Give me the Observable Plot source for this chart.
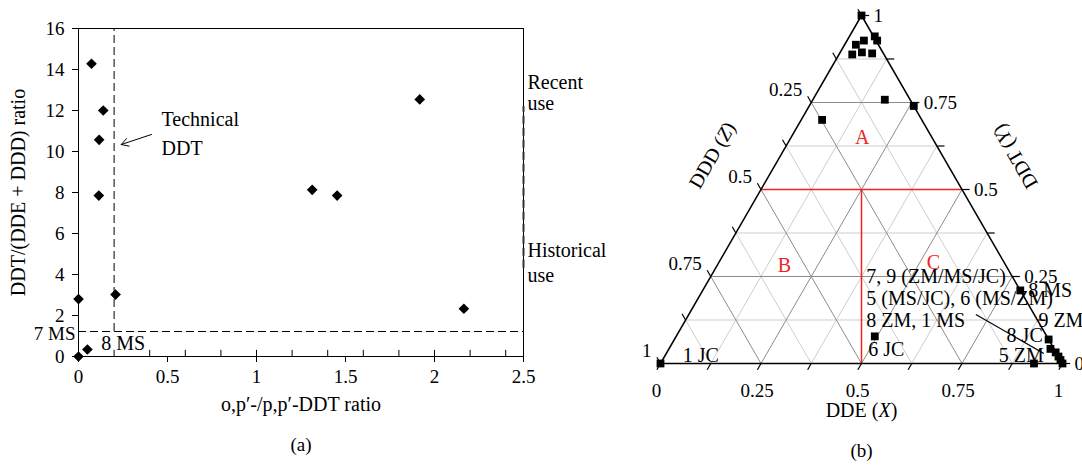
<!DOCTYPE html>
<html><head><meta charset="utf-8">
<script src="https://cdn.jsdelivr.net/npm/d3@7"></script>
<script src="https://cdn.jsdelivr.net/npm/@observablehq/plot@0.6"></script>
<style>
body{margin:0;background:#fff;}
#wrap{position:relative;width:1082px;height:465px;overflow:hidden;background:#fff;}
#a{position:absolute;left:0;top:0;}
#b{position:absolute;left:560px;top:0;}
svg{overflow:visible;}
</style></head><body><div id="wrap"><div id="a"></div><div id="b"></div></div>
<script>
// ---------- Panel (a) data ----------
const opRatio  = [0, 0, 0.05, 0.073, 0.139, 0.116, 0.114, 0.208, 1.313, 1.453, 1.917, 2.165];
const ddtRatio = [2.8, 0, 0.34, 14.28, 12.0, 10.57, 7.85, 3.02, 8.13, 7.85, 12.54, 2.33];
const xTicksA = [0, 0.5, 1, 1.5, 2, 2.5];
const xMinorA = [0.2, 0.4, 0.6, 0.8, 1.0, 1.2, 1.4, 1.6, 1.8, 2.0, 2.2, 2.4];
const yTicksA = [0, 2, 4, 6, 8, 10, 12, 14, 16];
const limit7MS = 1.22;       // horizontal dashed line
const technicalDDT = 0.2;    // vertical dashed line
const useSplit = [4.3, 12.2];// dashed segment at right edge
const annotA = [
  {t: "Technical", x: 0.444, y: 11.55},
  {t: "DDT", x: 0.444, y: 10.15},
  {t: "Recent", x: 2.5, y: 13.37},
  {t: "use", x: 2.5, y: 12.34},
  {t: "Historical", x: 2.5, y: 5.17},
  {t: "use", x: 2.5, y: 3.95},
  {t: "8 MS", x: 0.105, y: 0.63}
];
const arrowA = {x1: 0.41, y1: 10.83, x2: 0.24, y2: 10.34};

// ---------- Panel (b) data ----------
const ddeX = [0, 0.063, 0.075, 0.042, 0.028, 0.054, 0.081, 0.033, 0.052, 0.179, 0.26,
              0, 0.494, 0.79, 0.931, 0.949, 0.967, 0.98, 0.99, 1.0, 0.929];
const ddtY = [1, 0.94, 0.928, 0.928, 0.916, 0.894, 0.891, 0.888, 0.70, 0.758, 0.74,
              0, 0.078, 0.21, 0.069, 0.042, 0.032, 0.02, 0.01, 0, 0];
const gridSteps = [0.125, 0.25, 0.375, 0.5, 0.625, 0.75, 0.875];
const edgeTicks = [0, 0.125, 0.25, 0.375, 0.5, 0.625, 0.75, 0.875, 1];
const labelVals = [0, 0.25, 0.5, 0.75, 1];
const labelText = ["0", "0.25", "0.5", "0.75", "1"];
const boundaryY = 0.5;
const regions = [
  {t: "A", X: 0.177, Y: 0.65},
  {t: "B", X: 0.168, Y: 0.28},
  {t: "C", X: 0.534, Y: 0.29}
];
const annotB = [
  {t: "1 JC", X: 0.044, Y: 0.023},
  {t: "7, 9 (ZM/MS/JC)", X: 0.387, Y: 0.25},
  {t: "5 (MS/JC), 6 (MS/ZM)", X: 0.419, Y: 0.186},
  {t: "8 ZM, 1 MS", X: 0.45, Y: 0.124},
  {t: "6 JC", X: 0.497, Y: 0.04},
  {t: "8 MS", X: 0.81, Y: 0.21},
  {t: "9 ZM", X: 0.879, Y: 0.122},
  {t: "8 JC", X: 0.821, Y: 0.08},
  {t: "5 ZM", X: 0.83, Y: 0.023}
];
const leaderB = {X1: 0.714, Y1: 0.141, X2: 0.939, Y2: 0.029};

const FONT = '"Liberation Serif", "Times New Roman", serif';
const DASH = "8,4";

// ---------- Panel (a) ----------
const plotA = Plot.plot({
  width: 560, height: 465,
  marginLeft: 78, marginRight: 37, marginTop: 28, marginBottom: 109,
  x: {domain: [0, 2.5]},
  y: {domain: [0, 16]},
  style: {fontFamily: FONT, fontSize: "19px", color: "black", background: "transparent", overflow: "visible"},
  marks: [
    Plot.axisX(xTicksA, {tickSize: 6, tickPadding: 7, tickFormat: d => String(d), label: null, fontSize: 19}),
    Plot.axisY(yTicksA, {tickSize: 6, tickPadding: 8, tickFormat: d => String(d), label: null, fontSize: 19}),
    Plot.ruleX(xMinorA, {y1: 0, y2: 0.3, stroke: "black"}),
    Plot.frame({stroke: "black"}),
    Plot.ruleX([technicalDDT], {y1: limit7MS, y2: 16, strokeDasharray: DASH, stroke: "black"}),
    Plot.ruleY([limit7MS], {x1: 0, x2: 2.5, strokeDasharray: DASH, stroke: "black"}),
    Plot.ruleX([2.5], {y1: useSplit[0], y2: useSplit[1], strokeDasharray: DASH, strokeWidth: 2, stroke: "#333"}),
    Plot.dot(opRatio.map((v, i) => i), {x: i => opRatio[i], y: i => ddtRatio[i], symbol: "diamond2", fill: "black", stroke: "none", r: 4.8}),
    Plot.arrow([arrowA], {x1: "x1", y1: "y1", x2: "x2", y2: "y2", stroke: "black", strokeWidth: 1, headLength: 12}),
    Plot.text(annotA, {x: "x", y: "y", text: "t", textAnchor: "start", dx: 4, fontSize: 20, fill: "black"}),
    Plot.text(["7 MS"], {x: 0, y: limit7MS, text: d => d, textAnchor: "end", dx: -3, dy: 2, fontSize: 19, fill: "black"}),
    Plot.text(["DDT/(DDE + DDD) ratio"], {frameAnchor: "left", textAnchor: "middle", text: d => d, dx: -60, rotate: -90, fontSize: 20, fill: "black"}),
    Plot.text(["o,p′-/p,p′-DDT ratio"], {frameAnchor: "bottom", text: d => d, dy: 54, fontSize: 20, fill: "black"}),
    Plot.text(["(a)"], {frameAnchor: "bottom", text: d => d, dy: 94, fontSize: 19, fill: "black"})
  ]
});
document.getElementById("a").appendChild(plotA);

// ---------- Panel (b) ----------
const T = (X, Y) => [X + Y / 2, Y];
const isMajor = v => Math.abs(v * 4 - Math.round(v * 4)) < 1e-9;
const segs = [];
for (const v of gridSteps) {
  segs.push({a: T(0, v), b: T(1 - v, v), major: isMajor(v)});       // constant DDT
  segs.push({a: T(v, 0), b: T(v, 1 - v), major: isMajor(v)});       // constant DDE
  segs.push({a: T(1 - v, 0), b: T(0, 1 - v), major: isMajor(v)});   // constant DDD
}
const L = 0.018;
const ticks = [];
for (const v of edgeTicks) {
  const pb = T(v, 0); ticks.push({a: pb, b: [pb[0] - L / 2, -L]});
  const pr = T(1 - v, v); ticks.push({a: pr, b: [pr[0] + L * 1.05, pr[1]]});
  const pl = T(0, 1 - v); ticks.push({a: pl, b: [pl[0] - L / 2, pl[1] + L]});
}
const edges = [T(0, 0), T(1, 0), T(0, 1), T(0, 0)];
const pts = ddeX.map((x, i) => T(x, ddtY[i]));
const red = "#ee2424";
// region boundaries: DDT = 0.5, and DDE = DDD below it
const redLines = [
  [T(0, boundaryY), T(1 - boundaryY, boundaryY)],
  [T(0.5, 0), T((1 - boundaryY) / 2, boundaryY)]
];

const plotB = Plot.plot({
  width: 522, height: 465,
  marginLeft: 100, marginRight: 20, marginTop: 15, marginBottom: 102,
  x: {domain: [0, 1], axis: null},
  y: {domain: [0, 1], axis: null},
  style: {fontFamily: FONT, fontSize: "19px", color: "black", background: "transparent", overflow: "visible"},
  marks: [
    Plot.link(segs.filter(d => !d.major), {x1: d => d.a[0], y1: d => d.a[1], x2: d => d.b[0], y2: d => d.b[1], stroke: "#cdcdcd", strokeWidth: 1}),
    Plot.link(segs.filter(d => d.major), {x1: d => d.a[0], y1: d => d.a[1], x2: d => d.b[0], y2: d => d.b[1], stroke: "#8c8c8c", strokeWidth: 1}),
    Plot.link(redLines, {x1: d => d[0][0], y1: d => d[0][1], x2: d => d[1][0], y2: d => d[1][1], stroke: red, strokeWidth: 1.5}),
    Plot.line(edges, {x: d => d[0], y: d => d[1], stroke: "black", strokeWidth: 1.5}),
    Plot.link(ticks, {x1: d => d.a[0], y1: d => d.a[1], x2: d => d.b[0], y2: d => d.b[1], stroke: "black", strokeWidth: 1.2}),
    Plot.link([leaderB], {x1: d => T(d.X1, d.Y1)[0], y1: d => d.Y1, x2: d => T(d.X2, d.Y2)[0], y2: d => d.Y2, stroke: "black", strokeWidth: 1.2}),
    Plot.text(regions, {x: d => T(d.X, d.Y)[0], y: d => d.Y, text: "t", fill: red, fontSize: 20}),
    Plot.text(annotB, {x: d => T(d.X, d.Y)[0], y: d => d.Y, text: "t", textAnchor: "start", fontSize: 20, fill: "black"}),
    Plot.dot(pts, {x: d => d[0], y: d => d[1], symbol: "square", fill: "black", stroke: "none", r: 4.4}),
    // axis labels
    Plot.text(labelVals, {x: v => T(v, 0)[0], y: v => T(v, 0)[1], text: (v, i) => labelText[i], dy: 27, dx: -4, fontSize: 19, fill: "black"}),
    Plot.text(labelVals, {x: v => T(1 - v, v)[0], y: v => v, text: (v, i) => labelText[i], dx: 12, textAnchor: "start", fontSize: 19, fill: "black"}),
    Plot.text(labelVals.slice(1), {x: v => T(0, 1 - v)[0], y: v => 1 - v, text: (v, i) => labelText[i + 1], dx: -9, dy: -13, textAnchor: "end", fontSize: 19, fill: "black"}),
    Plot.text(["DDD (Z)"], {x: 0.129, y: 0.598, text: d => d, rotate: -60, fontSize: 20, fill: "black"}),
    Plot.text(["DDT (Y)"], {x: 0.883, y: 0.595, text: d => d, rotate: -120, fontSize: 20, fill: "black"}),
    Plot.text(["DDE (X)"], {x: 0.5, y: 0, text: d => d, dy: 47, fontSize: 20, fill: "black"}),
    Plot.text(["(b)"], {x: 0.5, y: 0, text: d => d, dy: 87, fontSize: 19, fill: "black"})
  ]
});
document.getElementById("b").appendChild(plotB);

// italic variable letters
document.querySelectorAll("#b text").forEach(t => {
  const s = t.textContent;
  const m = s.match(/^(DD[DTE]) \(([XYZ])\)$/);
  if (m) t.innerHTML = m[1] + ' (<tspan font-style="italic">' + m[2] + '</tspan>)';
});
</script></body></html>
